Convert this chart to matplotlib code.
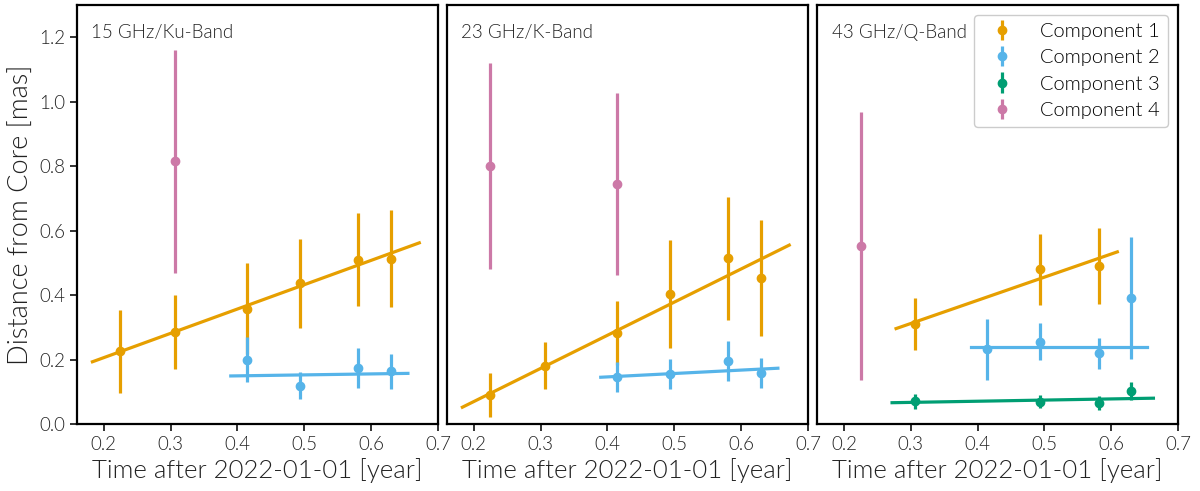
import numpy as np
import matplotlib
matplotlib.use("Agg")
import matplotlib.pyplot as plt

plt.rcParams['font.family'] = ['Lato', 'DejaVu Sans']
plt.rcParams['font.weight'] = 300
plt.rcParams['axes.labelweight'] = 300

# epochs (years after 2022-01-01)
t = [0.225, 0.307, 0.414, 0.493, 0.581, 0.630]

bands = ["15 GHz/Ku-Band", "23 GHz/K-Band", "43 GHz/Q-Band"]
labels = ["Component 1", "Component 2", "Component 3", "Component 4"]
colors = ["#E69F00", "#56B4E9", "#009E73", "#CC79A7"]

# per band: component -> (epoch indices, distance, error)
data15 = {
    0: ([0, 1, 2, 3, 4, 5], [0.225, 0.285, 0.358, 0.437, 0.510, 0.513], [0.130, 0.115, 0.140, 0.138, 0.145, 0.150]),
    1: ([2, 3, 4, 5], [0.200, 0.118, 0.173, 0.163], [0.070, 0.042, 0.062, 0.055]),
    3: ([1], [0.815], [0.345]),
}
data23 = {
    0: ([0, 1, 2, 3, 4, 5], [0.090, 0.181, 0.283, 0.403, 0.514, 0.452], [0.067, 0.073, 0.100, 0.167, 0.190, 0.180]),
    1: ([2, 3, 4, 5], [0.145, 0.155, 0.195, 0.159], [0.047, 0.048, 0.062, 0.047]),
    3: ([0, 2], [0.800, 0.744], [0.320, 0.283]),
}
data43 = {
    0: ([1, 3, 4], [0.310, 0.480, 0.490], [0.080, 0.110, 0.117]),
    1: ([2, 3, 4, 5], [0.232, 0.255, 0.220, 0.391], [0.094, 0.057, 0.048, 0.188]),
    2: ([1, 3, 4, 5], [0.071, 0.069, 0.066, 0.102], [0.023, 0.020, 0.022, 0.028]),
    3: ([0], [0.552], [0.417]),
}

# linear fits: component -> (x start, x end, y start, y end)
fits15 = {0: (0.183, 0.672, 0.193, 0.562), 1: (0.390, 0.655, 0.149, 0.157)}
fits23 = {0: (0.183, 0.672, 0.052, 0.555), 1: (0.390, 0.655, 0.145, 0.173)}
fits43 = {0: (0.278, 0.609, 0.296, 0.534), 1: (0.390, 0.653, 0.239, 0.239),
          2: (0.272, 0.663, 0.066, 0.080)}

all_data = [data15, data23, data43]
all_fits = [fits15, fits23, fits43]

fig = plt.figure(figsize=(12, 4.91), dpi=100)
lefts = [0.0642, 0.3725, 0.681]
axes = []
for i in range(3):
    if i == 0:
        ax = fig.add_axes([lefts[i], 0.1365, 0.3008, 0.8533])
    else:
        ax = fig.add_axes([lefts[i], 0.1365, 0.3008, 0.8533], sharey=axes[0])
    axes.append(ax)

for i, ax in enumerate(axes):
    d = all_data[i]
    for c in range(4):
        if c in d:
            idx, y, e = d[c]
            x = [t[k] for k in idx]
            ax.errorbar(x, y, yerr=e, fmt='o', color=colors[c], ms=6,
                        elinewidth=2.3, capsize=0, label=labels[c])
        else:
            ax.errorbar([], [], yerr=[], fmt='o', color=colors[c], ms=6,
                        elinewidth=2.3, capsize=0, label=labels[c])
    for c, (x0, x1, y0, y1) in all_fits[i].items():
        ax.plot([x0, x1], [y0, y1], color=colors[c], lw=2.3)

    ax.set_xlim(0.16, 0.70)
    ax.set_ylim(0, 1.3)
    ax.set_xticks([0.2, 0.3, 0.4, 0.5, 0.6, 0.7])
    ax.tick_params(labelsize=13.5, width=1.3, length=5, colors='#222222')
    for s in ax.spines.values():
        s.set_linewidth(1.6)
    ax.text(0.04, 0.935, bands[i], transform=ax.transAxes, fontsize=13.5,
            color='#222222', va='center', ha='left')
    ax.set_xlabel("Time after 2022-01-01 [year]", fontsize=18.5, color='#222222')
    if i > 0:
        ax.tick_params(axis='y', left=False, labelleft=False)

axes[0].set_yticks([0.0, 0.2, 0.4, 0.6, 0.8, 1.0, 1.2])
axes[0].set_ylabel("Distance from Core [mas]", fontsize=19.5, color='#222222')

leg = axes[2].legend(loc='upper right', fontsize=14.5, handletextpad=0.9,
                     borderpad=0.4, labelspacing=0.45, framealpha=1,
                     edgecolor='#cccccc')

fig.savefig("out.png", dpi=100)
